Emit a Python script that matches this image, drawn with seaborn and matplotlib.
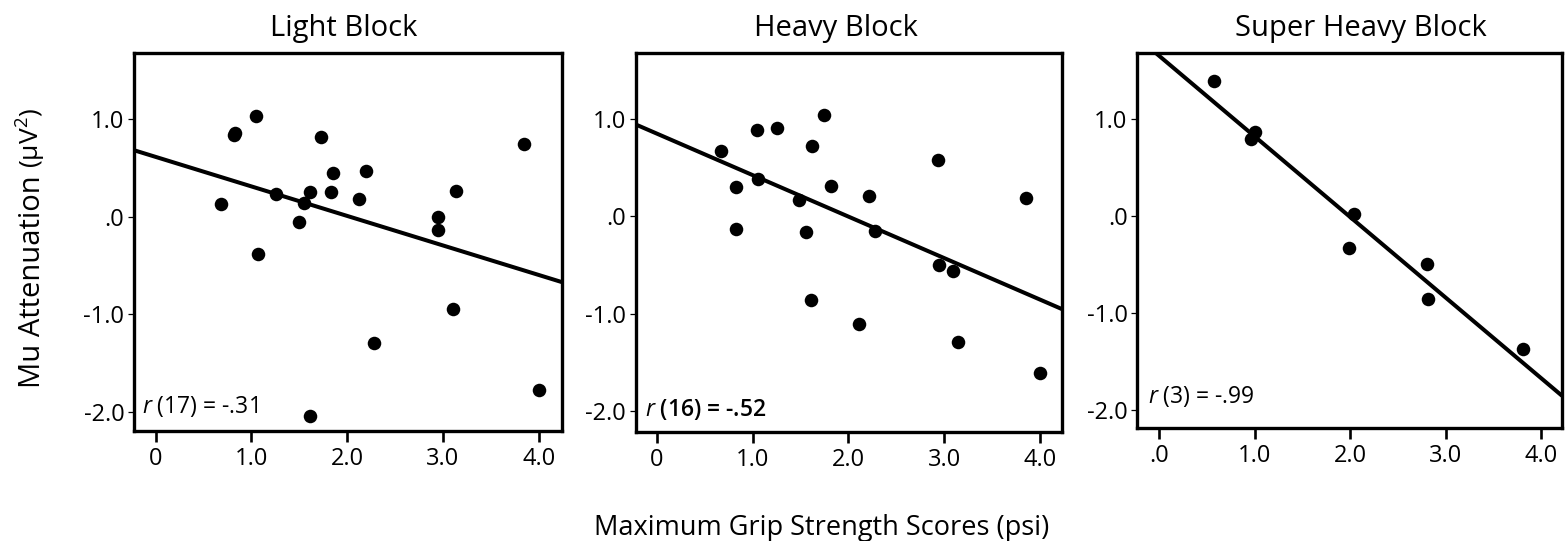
import numpy as np
import pandas as pd
import matplotlib
matplotlib.use("Agg")
import matplotlib.pyplot as plt
import seaborn as sns

# ---------------- data ----------------
titles = ["Light Block", "Heavy Block", "Super Heavy Block"]

light_x = [0.68, 0.82, 0.83, 1.05, 1.07, 1.26, 1.50, 1.55, 1.615, 1.61, 1.73,
           1.83, 1.855, 2.12, 2.20, 2.28, 2.95, 2.95, 3.10, 3.14, 3.85, 4.00]
light_y = [0.13, 0.84, 0.86, 1.035, -0.384, 0.233, -0.058, 0.144, 0.254, -2.05, 0.816,
           0.257, 0.446, 0.185, 0.473, -1.30, -0.003, -0.137, -0.946, 0.26, 0.747, -1.776]

heavy_x = [0.668, 0.825, 0.825, 1.04, 1.06, 1.257, 1.48, 1.553, 1.62, 1.61, 1.744,
           1.817, 2.11, 2.21, 2.28, 2.94, 2.95, 3.095, 3.14, 3.85, 4.00]
heavy_y = [0.668, 0.298, -0.134, 0.884, 0.38, 0.908, 0.168, -0.158, 0.72, -0.86, 1.039,
           0.312, -1.10, 0.213, -0.154, 0.579, -0.494, -0.562, -1.286, 0.185, -1.608]

super_x = [0.576, 0.957, 1.003, 2.04, 1.99, 2.81, 2.82, 3.815]
super_y = [1.385, 0.792, 0.864, 0.021, -0.333, -0.494, -0.857, -1.368]

fit_intercept = [0.614, 0.849, 1.646]
fit_slope = [-0.303, -0.4257, -0.8285]

r_labels = ["(17) = -.31", "(16) = -.52", "(3) = -.99"]
r_weights = ["normal", "semibold", "normal"]

x_ticks = [0, 1, 2, 3, 4]
x_ticklabels = [["0", "1.0", "2.0", "3.0", "4.0"],
                ["0", "1.0", "2.0", "3.0", "4.0"],
                [".0", "1.0", "2.0", "3.0", "4.0"]]
y_ticks = [1, 0, -1, -2]
y_ticklabels = ["1.0", ".0", "-1.0", "-2.0"]

x_label = "Maximum Grip Strength Scores (psi)"
y_label_main = "Mu Attenuation"
y_label_unit = "(\u03bcV$^{2}$)"

# ---------------- styling ----------------
sns.set_theme(style="white")
FONT = "Open Sans"
plt.rcParams["font.family"] = [FONT, "DejaVu Sans"]
plt.rcParams["mathtext.fontset"] = "custom"
plt.rcParams["mathtext.rm"] = FONT
plt.rcParams["mathtext.it"] = FONT + ":italic"
plt.rcParams["mathtext.bf"] = FONT + ":bold"

W, H = 1567, 541
fig = plt.figure(figsize=(W / 100, H / 100), dpi=100)

# panel boxes in pixels: left, right, top, bottom
boxes = [(134, 561.7, 52.7, 431.0),
         (635.7, 1061.7, 52.7, 431.7),
         (1137.3, 1561.7, 52.7, 428.3)]
xlims = [(-0.227, 4.24), (-0.222, 4.227), (-0.23, 4.217)]
ylims = [(-2.2, 1.684), (-2.21, 1.68), (-2.185, 1.679)]
r_pos = [(0.018, 0.047), (0.022, 0.041), (0.026, 0.067)]
title_x = [343.7, 836.0, 1361.0]

xs = [light_x, heavy_x, super_x]
ys = [light_y, heavy_y, super_y]

for i in range(3):
    l, r, t, b = boxes[i]
    ax = fig.add_axes([l / W, 1 - b / H, (r - l) / W, (b - t) / H])
    df = pd.DataFrame({"x": xs[i], "y": ys[i]})
    sns.scatterplot(data=df, x="x", y="y", ax=ax, color="black", s=95,
                    linewidth=0, zorder=3)
    ax.axline((0, fit_intercept[i]), slope=fit_slope[i], color="black",
              linewidth=2.9, zorder=2)
    ax.set_xlim(*xlims[i])
    ax.set_ylim(*ylims[i])
    ax.set_xticks(x_ticks)
    ax.set_xticklabels(x_ticklabels[i])
    ax.set_yticks(y_ticks)
    ax.set_yticklabels(y_ticklabels)
    ax.set_xlabel("")
    ax.set_ylabel("")
    for sp in ax.spines.values():
        sp.set_visible(True)
        sp.set_color("black")
        sp.set_linewidth(2.4)
    ax.tick_params(axis="x", which="major", direction="out", length=8,
                   width=1.9, color="black", pad=3.5, labelsize=17,
                   labelcolor="black", bottom=True)
    ax.tick_params(axis="y", which="major", direction="out", length=4,
                   width=0.9, color="black", pad=3, labelsize=17,
                   labelcolor="black", left=True)
    ax.grid(False)
    ax.text(r_pos[i][0], r_pos[i][1], "$\\mathit{r}$ " + r_labels[i],
            transform=ax.transAxes, fontsize=16.5, fontweight=r_weights[i],
            ha="left", va="baseline", color="black")
    fig.text(title_x[i] / W, 1 - 35.7 / H, titles[i], fontsize=21,
             ha="center", va="baseline", color="black")

fig.text(822 / W, 1 - 535 / H, x_label, fontsize=19.5, ha="center",
         va="baseline", color="black")
fig.text(40 / W, 1 - 388 / H, y_label_main, fontsize=21, rotation=90,
         rotation_mode="anchor", ha="left", va="baseline", color="black")
fig.text(40 / W, 1 - 168 / H, y_label_unit, fontsize=19, rotation=90,
         rotation_mode="anchor", ha="left", va="baseline", color="black")

fig.savefig("out.png", dpi=100, facecolor="white")
